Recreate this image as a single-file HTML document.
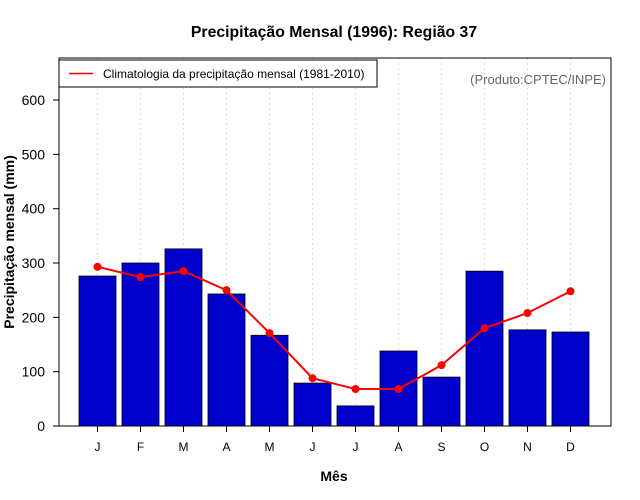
<!DOCTYPE html>
<html><head><meta charset="utf-8"><style>
body{margin:0;background:#fff}
svg{display:block;font-family:"Liberation Sans",sans-serif}
</style></head><body>
<svg id="c" width="640" height="500">
<text x="334" y="37" text-anchor="middle" font-size="15.8" font-weight="bold">Precipitação Mensal (1996): Região 37</text>
<text x="334" y="481" text-anchor="middle" font-size="14" font-weight="bold">Mês</text>
<text transform="translate(14,242) rotate(-90)" text-anchor="middle" font-size="14" font-weight="bold">Precipitação mensal (mm)</text>
<g id="grid"></g><g id="bars"></g><g id="line"></g><g id="axes"></g>
<rect x="59" y="58" width="552" height="368" fill="none" stroke="#000" stroke-width="1"/>
<g>
<rect x="59" y="60" width="318" height="27" fill="#fff" stroke="#000"/>
<line x1="69" y1="73.5" x2="93" y2="73.5" stroke="red" stroke-width="1.5"/>
<text x="103" y="78" font-size="12">Climatologia da precipitação mensal (1981-2010)</text>
</g>
<text x="606" y="84" text-anchor="end" font-size="13" fill="#666">(Produto:CPTEC/INPE)</text>
</svg>
<script>
const months=["J","F","M","A","M","J","J","A","S","O","N","D"];
const precip=[276,300,326,243,167,79,37,138,90,285,177,173];
const clim=[293,274,285,250,171,88,68,68,112,180,208,248];
const yTicks=[0,100,200,300,400,500,600];
const NS="http://www.w3.org/2000/svg";
const X=i=>97.5+i*43;
const Y=v=>426-v*0.5433;
function mk(t,a,p){const e=document.createElementNS(NS,t);for(const k in a)e.setAttribute(k,a[k]);p.appendChild(e);return e;}
const g=document.getElementById('grid'),b=document.getElementById('bars'),l=document.getElementById('line'),ax=document.getElementById('axes');
months.forEach((m,i)=>{
 const gl=mk('line',{x1:X(i),x2:X(i),y1:58,y2:426,stroke:'#ddd','stroke-dasharray':'2,3'},g);
 
 
 const r=mk('rect',{x:X(i)-18.5,y:Y(precip[i]),width:37,height:426-Y(precip[i]),fill:'#0000cd',stroke:'#000','stroke-width':0.8},b);
 
 
 const t=mk('line',{x1:X(i),x2:X(i),y1:426,y2:432,stroke:'#000'},ax);
 
 
 const tx=mk('text',{x:X(i),y:451,'text-anchor':'middle','font-size':12},ax);
 tx.textContent=m;
 
 
});
const pl=mk('polyline',{points:clim.map((v,i)=>X(i)+','+Y(v)).join(' '),fill:'none',stroke:'red','stroke-width':2},l);


clim.forEach((v,i)=>{
 const c=mk('circle',{cx:X(i),cy:Y(v),r:4,fill:'red'},l);
 
 
});
yTicks.forEach(v=>{
 const t=mk('line',{x1:53,x2:59,y1:Y(v),y2:Y(v),stroke:'#000'},ax);
 
 
 const tx=mk('text',{x:45,y:Y(v)+5,'text-anchor':'end','font-size':14},ax);
 tx.textContent=v;
 
 
});
</script>
</body></html>
